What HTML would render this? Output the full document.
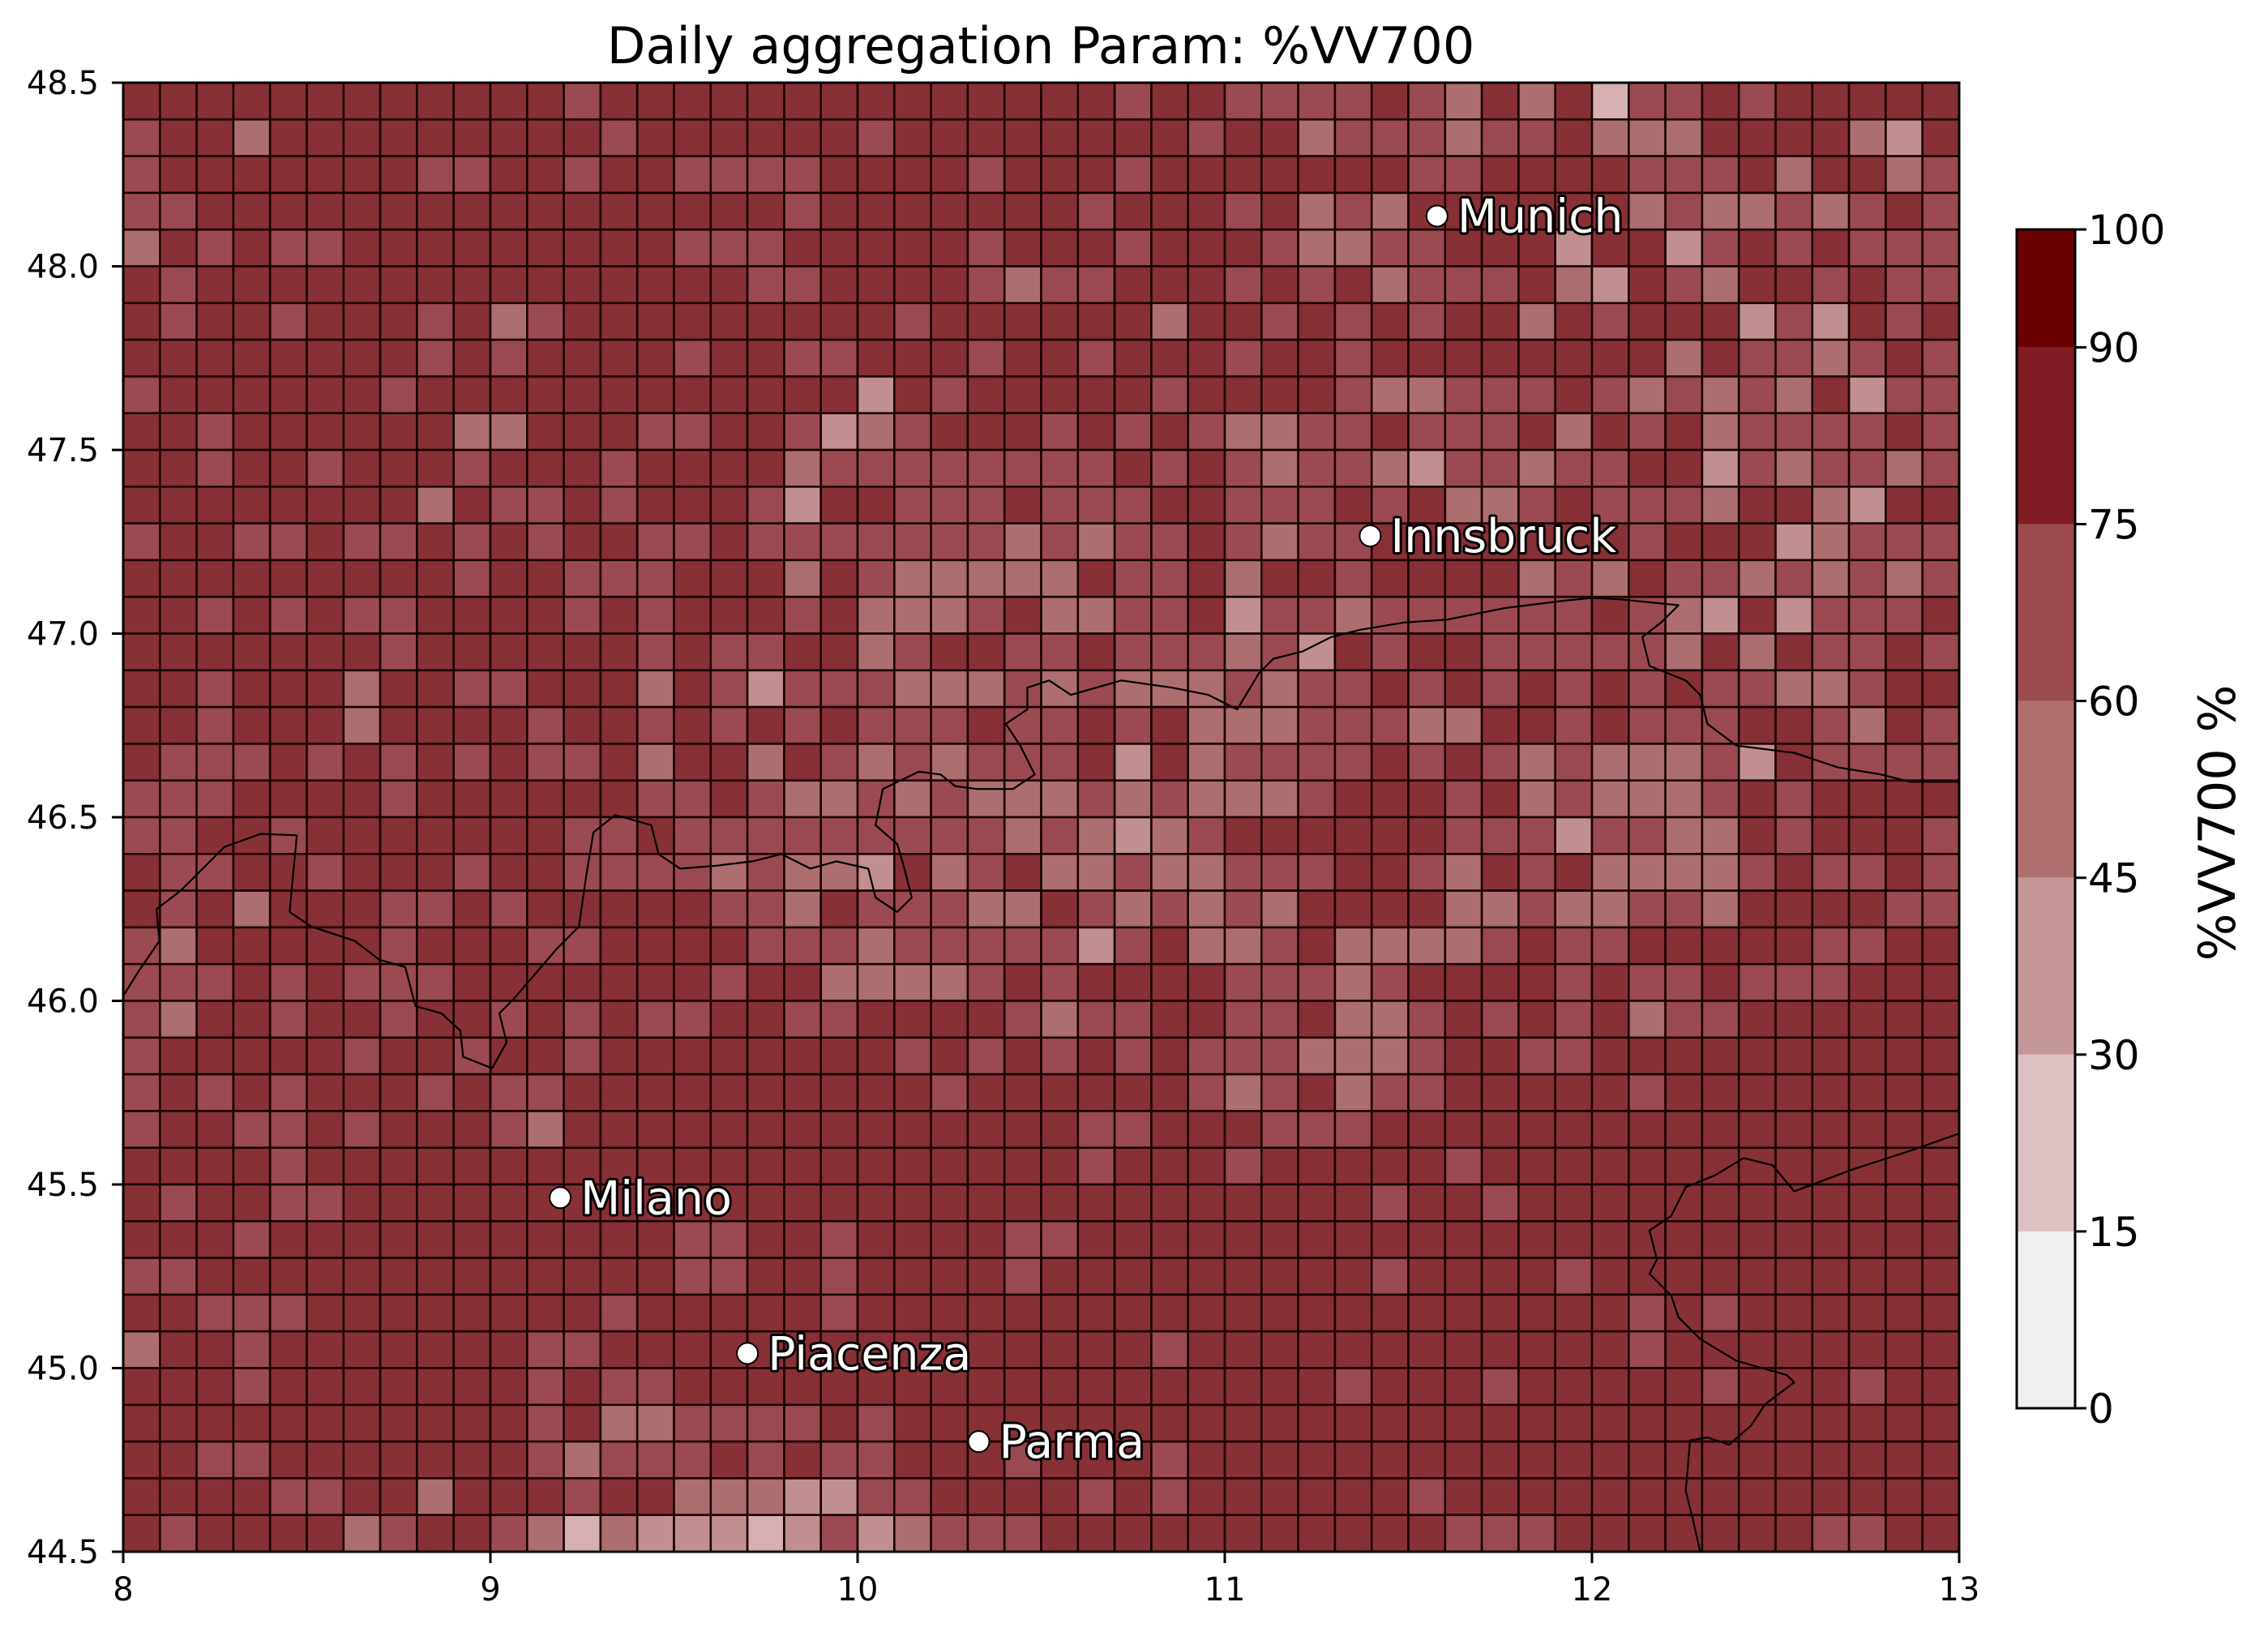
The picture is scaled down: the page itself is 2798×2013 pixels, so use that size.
<!DOCTYPE html>
<html><head><meta charset="utf-8"><title>Daily aggregation Param: %VV700</title>
<style>html,body{margin:0;padding:0;background:#fff}svg{display:block}text{font-family:"DejaVu Sans","Liberation Sans",sans-serif}</style>
</head><body>
<svg id="chart" xmlns="http://www.w3.org/2000/svg" width="2798" height="2013" viewBox="0 0 2798 2013">
<rect width="2798" height="2013" fill="#fff"/>
<text x="1284" y="78" font-size="62" text-anchor="middle">Daily aggregation Param: %VV700</text>
<g id="cells"></g>
<g id="borders"></g>
<g id="cities"></g>
<rect x="152" y="102" width="2265" height="1812" fill="none" stroke="#000" stroke-width="3"/>
<g id="xaxis"></g>
<g id="yaxis"></g>
<g id="cbar"></g>
<text transform="translate(2757,1015) rotate(-90)" font-size="62" text-anchor="middle">%VV700 %</text>
</svg>
<script>
const lonMin = 8, lonMax = 13, latMin = 44.5, latMax = 48.5, cellDeg = 0.1;
const xTicks = [8, 9, 10, 11, 12, 13];
const xTickLabels = ["8", "9", "10", "11", "12", "13"];
const yTicks = [44.5, 45.0, 45.5, 46.0, 46.5, 47.0, 47.5, 48.0, 48.5];
const yTickLabels = ["44.5", "45.0", "45.5", "46.0", "46.5", "47.0", "47.5", "48.0", "48.5"];
const levels = [0, 15, 30, 45, 60, 75, 90, 100];
const levelLabels = ["0", "15", "30", "45", "60", "75", "90", "100"];
const cbarColors = ["#f0f0f0", "#dfc0c2", "#c59799", "#b07070", "#9b4b4f", "#801c24", "#6b0000"];
const cellColors = ["#f0f0f0", "#d6b0b2", "#c28f91", "#ad6e70", "#9b4a51", "#873035", "#700a0a"];
const cityNames = ["Munich", "Innsbruck", "Milano", "Piacenza", "Parma"];
const cityLons = [11.578, 11.396, 9.19, 9.70, 10.33];
const cityLats = [48.137, 47.266, 45.464, 45.04, 44.80];
// values: rows from north (48.4-48.5) to south, columns from lon 8.0 eastward
const values = [
[82,82,82,82,82,82,82,82,82,82,82,82,68,82,82,82,82,82,82,82,82,82,82,82,82, 82,82,68,82,82,68,68,68,68,82,68,52,82,52,82,22,68,68,82,68,82,82,82,82,82],
[68,82,82,52,82,82,82,82,82,82,82,82,82,68,82,82,82,82,82,82,68,82,82,82,82, 82,82,82,82,68,82,82,52,68,68,68,52,68,68,82,52,52,52,82,82,82,82,52,38,82],
[68,82,82,82,82,82,82,82,68,68,82,82,68,82,82,68,68,68,68,82,82,82,82,68,82, 82,82,68,82,82,82,82,82,82,82,68,68,82,82,82,82,68,68,68,82,52,82,82,52,68],
[68,68,82,82,82,82,82,82,82,82,82,82,82,82,82,82,82,82,68,82,82,82,82,82,82, 82,68,82,82,82,68,82,52,68,52,82,82,82,82,82,82,52,68,52,52,68,52,68,82,68],
[52,82,68,82,68,68,82,82,82,82,82,82,82,82,82,68,68,68,82,82,82,82,82,68,82, 82,82,68,82,82,82,68,52,52,68,68,82,82,82,38,82,82,38,68,82,68,82,68,68,68],
[82,68,82,82,82,82,82,82,82,82,82,82,82,82,82,82,82,68,68,82,82,82,82,68,52, 68,68,82,82,82,68,82,68,82,52,68,68,68,82,52,38,82,68,52,82,82,68,82,68,68],
[82,68,82,82,68,82,82,82,68,82,52,68,82,82,82,82,82,82,82,82,82,68,82,82,82, 82,82,82,52,82,82,68,82,68,82,68,82,82,52,82,68,82,82,82,38,68,38,82,68,82],
[82,82,82,82,82,82,82,82,68,82,68,82,82,82,82,68,82,82,68,68,82,82,82,68,82, 82,68,82,82,82,68,82,82,68,82,82,82,82,82,82,82,82,52,82,68,68,52,68,82,68],
[68,82,82,82,82,82,82,68,82,82,82,82,82,82,82,82,82,82,82,82,38,82,68,82,82, 82,82,82,68,82,82,82,82,68,52,52,68,68,68,82,68,52,68,52,68,52,82,38,68,68],
[82,82,68,82,82,82,82,82,82,52,52,82,82,82,68,68,82,82,68,38,52,68,82,82,82, 68,82,68,82,68,52,52,68,68,82,68,68,68,82,52,82,68,82,52,68,68,68,68,82,68],
[82,82,68,82,82,68,82,82,82,68,82,82,82,68,82,82,82,82,52,68,68,68,68,68,68, 68,68,82,68,82,68,52,68,68,52,38,68,68,52,68,68,82,82,38,68,52,68,68,52,68],
[82,82,82,82,82,82,82,82,52,82,68,68,82,68,82,82,82,68,38,82,82,68,68,68,82, 68,68,68,82,82,68,68,68,82,68,82,52,52,68,82,68,68,68,52,82,82,52,38,82,82],
[68,82,82,68,68,82,68,68,82,68,82,68,82,82,68,68,82,68,68,68,68,68,68,68,52, 68,52,68,68,82,68,52,68,68,82,82,82,82,82,82,82,68,82,82,82,38,52,68,68,68],
[82,82,82,82,82,82,82,82,82,68,82,82,68,68,68,82,82,82,52,82,68,52,52,52,52, 52,82,68,68,82,52,82,82,68,82,82,82,82,52,68,52,82,68,68,52,68,52,68,52,68],
[82,82,68,82,68,82,68,68,82,82,82,82,68,82,68,82,82,82,68,82,52,52,52,68,82, 52,52,68,68,82,38,68,68,52,68,68,68,68,68,68,82,68,52,38,82,38,68,68,68,82],
[82,82,82,82,82,82,82,68,82,82,82,82,82,82,68,82,68,68,82,82,52,68,82,82,68, 68,82,68,68,68,52,68,38,82,68,82,82,68,68,68,68,68,52,82,52,82,68,68,82,68],
[82,82,68,82,82,82,52,82,82,68,68,82,82,82,52,82,68,38,68,68,68,52,52,52,68, 52,68,52,52,52,68,52,68,68,82,68,82,68,82,68,82,68,82,68,68,52,52,68,82,82],
[82,82,68,82,82,82,52,82,82,82,82,68,82,82,68,82,68,82,68,82,68,68,68,82,68, 68,82,68,82,52,52,52,68,68,68,52,52,82,82,68,82,68,68,68,82,82,68,52,82,68],
[82,68,68,68,82,68,82,68,82,68,82,68,68,82,52,82,82,52,82,68,52,68,52,68,68, 68,82,38,82,52,68,68,68,68,82,68,82,68,52,68,52,52,52,68,38,82,68,68,68,68],
[68,68,68,82,82,82,82,68,82,82,82,82,82,82,68,68,82,68,52,52,68,52,68,52,52, 52,68,52,68,52,52,52,68,82,82,82,68,82,52,68,52,52,52,68,82,68,82,82,82,82],
[68,68,82,82,68,82,82,82,82,82,82,82,68,68,82,68,68,68,68,68,68,68,68,68,52, 68,52,38,52,68,82,82,82,82,82,82,68,68,68,38,68,68,52,52,82,68,82,82,82,68],
[82,68,68,82,82,68,82,82,82,68,82,82,68,68,68,68,52,68,52,52,38,82,52,68,82, 52,52,68,52,52,68,68,68,82,82,68,52,82,68,82,52,52,52,52,68,82,68,68,82,68],
[82,68,82,52,82,82,82,68,68,82,68,82,82,82,82,82,68,68,52,82,68,68,68,52,52, 82,68,52,68,52,68,52,82,82,82,82,52,52,68,52,52,68,68,52,82,82,82,82,68,68],
[68,52,82,82,82,82,82,68,82,82,82,68,68,82,82,82,82,68,68,68,52,68,68,68,68, 68,38,68,82,52,52,68,82,52,52,52,52,68,82,68,68,82,82,82,82,82,68,68,82,82],
[68,68,68,82,68,82,68,68,68,82,82,82,82,82,82,82,68,82,82,52,52,52,52,68,82, 68,82,82,82,82,68,68,68,52,68,82,82,82,82,68,82,68,68,82,68,68,68,82,82,82],
[68,52,82,82,68,82,82,68,82,82,68,82,68,82,68,68,82,82,68,68,82,82,82,82,68, 52,68,68,82,82,68,68,82,52,52,68,82,68,82,68,82,52,68,68,82,82,82,82,82,82],
[68,82,82,82,82,82,68,82,82,68,82,82,68,82,82,82,82,82,82,82,82,68,82,68,82, 68,82,68,82,68,68,68,52,52,52,68,82,82,68,68,82,82,82,82,82,82,82,82,82,82],
[68,82,68,82,68,82,82,82,68,82,68,68,82,82,82,82,82,82,82,82,82,82,68,82,82, 82,82,82,82,68,52,68,82,52,68,68,82,82,82,82,82,68,82,82,82,82,82,82,82,82],
[68,82,82,68,68,82,68,82,82,82,68,52,82,82,82,82,82,82,82,82,82,82,82,82,82, 82,68,68,82,82,82,68,68,68,82,82,82,82,82,82,82,82,82,82,82,82,82,82,82,82],
[82,82,82,82,68,82,82,82,82,82,82,82,82,82,82,82,82,82,82,82,82,82,82,82,82, 82,68,82,82,82,68,82,82,82,82,82,68,82,82,82,82,82,82,82,82,82,82,82,82,82],
[82,68,82,82,68,68,82,82,82,82,82,82,82,82,82,82,82,82,82,82,82,82,82,82,82, 82,82,82,82,82,82,82,82,82,68,82,82,68,82,82,82,82,82,82,82,82,82,82,82,82],
[82,82,82,68,82,82,82,82,82,82,82,82,82,82,82,68,68,82,82,68,82,82,82,82,68, 68,82,82,82,82,82,82,82,82,82,82,82,82,82,82,82,82,82,82,82,82,82,82,82,82],
[68,68,82,82,82,82,82,82,82,82,82,82,82,82,82,68,68,82,82,68,82,82,82,82,68, 82,82,82,82,82,82,82,82,82,68,82,82,82,82,68,82,82,82,82,82,82,82,82,82,82],
[82,82,68,68,68,82,82,82,82,82,82,82,82,68,82,82,82,82,82,68,82,82,82,82,82, 82,82,82,82,82,82,82,82,82,82,82,82,82,82,82,82,68,82,68,82,82,82,82,82,82],
[52,82,82,68,82,82,82,82,82,82,82,68,68,82,82,82,82,82,82,82,82,82,82,82,82, 82,82,82,68,82,82,82,82,82,82,82,82,82,82,82,82,68,82,82,82,82,82,82,82,82],
[82,82,82,68,82,82,82,82,82,82,82,68,82,68,68,82,82,82,82,82,82,82,82,82,82, 82,82,82,82,82,82,82,82,68,82,82,82,68,82,82,82,82,82,68,82,82,82,68,82,82],
[82,82,82,82,82,82,82,82,82,82,82,68,82,52,52,68,68,68,68,82,68,82,82,82,82, 82,82,82,82,82,82,82,82,82,82,82,82,82,82,82,82,82,82,82,82,82,82,82,82,82],
[82,82,68,68,82,82,82,82,82,82,82,68,52,68,68,68,82,68,82,68,68,82,82,82,68, 82,82,82,68,82,82,82,82,82,82,82,82,82,82,82,82,82,82,82,82,82,82,82,82,82],
[82,82,82,82,68,68,82,82,52,82,82,82,68,82,82,52,52,52,38,38,68,68,82,82,82, 82,68,82,68,82,82,82,82,82,82,68,82,82,82,82,82,82,82,82,82,82,82,82,82,82],
[82,68,82,82,82,82,52,68,82,82,68,52,22,52,38,38,38,22,38,68,38,52,68,68,68, 82,82,82,82,82,82,82,82,82,82,82,68,68,68,82,82,82,82,82,82,82,68,68,82,82]
];
const borderTraceA = [[85,688],[95,672],[110,650],[108,628],[125,615],[155,585],[180,576],[205,577],[200,630],[215,640],[245,650],[262,663],[280,668],[287,695],[305,700],[318,712],[320,730],[340,738],[350,720],[345,700],[355,690],[385,655],[400,640],[405,605],[410,575],[425,563],[450,570],[455,590],[470,600],[495,598],[520,595],[540,590],[560,600],[578,595],[600,600],[605,620],[620,630],[630,620],[625,600],[620,583],[605,570],[610,545],[635,533],[650,535],[660,543],[675,545],[700,545],[715,535],[705,515],[695,500],[710,490],[710,475],[725,470],[740,480],[775,470],[810,475],[835,480],[855,490],[870,465],[880,455],[900,450],[920,440],[940,435],[970,430],[1000,428],[1040,420],[1080,415],[1100,413],[1120,414],[1140,416],[1160,418],[1148,430],[1135,440],[1140,460],[1165,470],[1175,480],[1180,500],[1200,515],[1240,520],[1270,530],[1300,535],[1320,540],[1354,540]];
const borderTraceB = [[1354,783],[1320,795],[1280,808],[1240,823],[1225,805],[1205,800],[1185,812],[1165,820],[1155,840],[1140,850],[1145,870],[1140,880],[1155,895],[1160,910],[1175,925],[1200,940],[1235,950],[1240,955],[1220,970],[1210,985],[1195,998],[1180,993],[1168,995],[1165,1030],[1170,1050],[1175,1072]];

const X = lon => 152 + (lon - lonMin) / (lonMax - lonMin) * 2265;
const Y = lat => 102 + (latMax - lat) / (latMax - latMin) * 1812;
const NS = "http://www.w3.org/2000/svg";
function mk(tag, attrs, parent) { const e = document.createElementNS(NS, tag); for (const k in attrs) e.setAttribute(k, attrs[k]); parent.appendChild(e); return e; }
function binOf(v) { for (let i = levels.length - 2; i >= 0; i--) if (v >= levels[i]) return i; return 0; }

const cellsG = document.getElementById('cells');
values.forEach((row, r) => {
  row.forEach((v, c) => {
    const lon0 = lonMin + c * cellDeg, latTop = latMax - r * cellDeg;
    const x0 = X(lon0), y0 = Y(latTop);
    const el = mk('rect', {x: x0, y: y0, width: X(lon0 + cellDeg) - x0, height: Y(latTop - cellDeg) - y0, fill: cellColors[binOf(v)], stroke: '#1a0000', 'stroke-width': 2.6}, cellsG);
    
    
  });
});

const bG = document.getElementById('borders');
function toLL(p) { return [8 + (p[0] - 85) / 253.8, 48.5 - (p[1] - 57) / 253.75]; }
[borderTraceA, borderTraceB].forEach((tr, i) => {
  const d = tr.map((p, j) => { const ll = toLL(p); return (j ? 'L' : 'M') + X(ll[0]).toFixed(1) + ' ' + Y(ll[1]).toFixed(1); }).join('');
  const el = mk('path', {d: d, fill: 'none', stroke: '#000', 'stroke-width': 2.2, 'stroke-linejoin': 'round'}, bG);
  
  
});

const cG = document.getElementById('cities');
cityNames.forEach((n, i) => {
  const cx = X(cityLons[i]), cy = Y(cityLats[i]);
  const dot = mk('circle', {cx: cx, cy: cy, r: 13, fill: '#fff', stroke: '#000', 'stroke-width': 2}, cG);
  
  
  const t = mk('text', {x: cx + 25, y: cy + 20, 'font-size': 57, fill: '#fff', stroke: '#000', 'stroke-width': 6, 'paint-order': 'stroke', 'stroke-linejoin': 'round'}, cG);
  t.textContent = n;
  
  
});

const xG = document.getElementById('xaxis');
xTicks.forEach((v, i) => {
  const x = X(v);
  const tk = mk('line', {x1: x, x2: x, y1: 1914, y2: 1928, stroke: '#000', 'stroke-width': 3}, xG);
  
  
  const t = mk('text', {x: x, y: 1974, 'font-size': 40, 'text-anchor': 'middle'}, xG);
  t.textContent = xTickLabels[i];
  
  
});
const yG = document.getElementById('yaxis');
yTicks.forEach((v, i) => {
  const y = Y(v);
  const tk = mk('line', {x1: 138, x2: 152, y1: y, y2: y, stroke: '#000', 'stroke-width': 3}, yG);
  
  
  const t = mk('text', {x: 122, y: y + 14, 'font-size': 40, 'text-anchor': 'end'}, yG);
  t.textContent = yTickLabels[i];
  
  
});

const cb = document.getElementById('cbar');
const cbX = 2488, cbW = 72, cbTop = 283, cbBot = 1737;
const CY = v => cbBot - (v - levels[0]) / (levels[levels.length - 1] - levels[0]) * (cbBot - cbTop);
for (let i = 0; i < levels.length - 1; i++) {
  const el = mk('rect', {x: cbX, y: CY(levels[i + 1]), width: cbW, height: CY(levels[i]) - CY(levels[i + 1]), fill: cbarColors[i]}, cb);
  
  
}
const cbf = mk('rect', {x: cbX, y: cbTop, width: cbW, height: cbBot - cbTop, fill: 'none', stroke: '#000', 'stroke-width': 3}, cb);


levels.forEach((v, i) => {
  const y = CY(v);
  const tk = mk('line', {x1: cbX + cbW, x2: cbX + cbW + 14, y1: y, y2: y, stroke: '#000', 'stroke-width': 3}, cb);
  
  
  const t = mk('text', {x: 2576, y: y + 18, 'font-size': 50}, cb);
  t.textContent = levelLabels[i];
  
  
});
</script>
</body></html>
